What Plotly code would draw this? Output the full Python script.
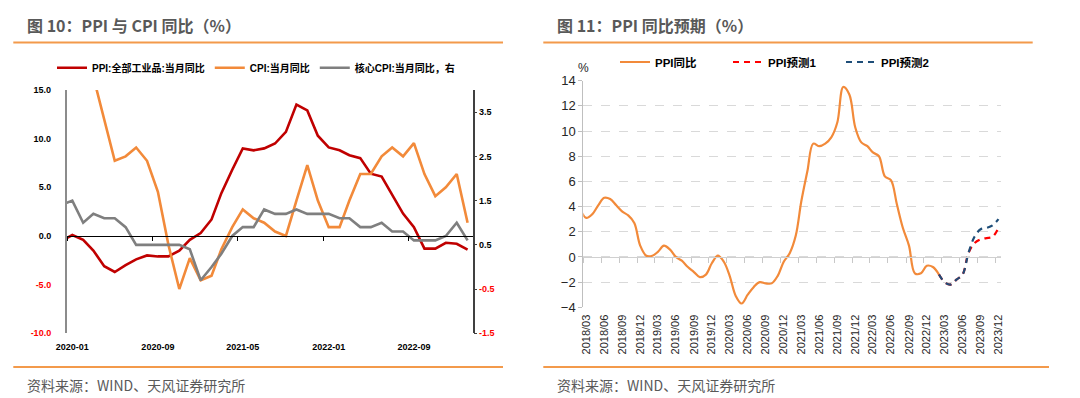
import plotly.graph_objects as go
import pandas as pd

W, H = 1080, 398


def px(x):
    return x / W


def py(y):
    return 1 - y / H


# ---------------- Data: left chart (图10) ----------------
left_months = pd.date_range("2019-12-01", "2023-02-01", freq="MS")
ppi_left = [-0.5,
            0.1, -0.4, -1.5, -3.1, -3.7, -3.0, -2.4, -2.0, -2.1, -2.1, -1.5, -0.4,
            0.3, 1.7, 4.4, 6.8, 9.0, 8.8, 9.0, 9.5, 10.7, 13.5, 12.9, 10.3,
            9.1, 8.8, 8.3, 8.0, 6.4, 6.1, 4.2, 2.3, 0.9, -1.3, -1.3, -0.7,
            -0.8, -1.4]
cpi_left = [4.5,
            5.4, 5.2, 4.3, 3.3, 2.4, 2.5, 2.7, 2.4, 1.7, 0.5, -0.5, 0.2,
            -0.3, -0.2, 0.4, 0.9, 1.3, 1.1, 1.0, 0.8, 0.7, 1.5, 2.3, 1.5,
            0.9, 0.9, 1.5, 2.1, 2.1, 2.5, 2.7, 2.5, 2.8, 2.1, 1.6, 1.8,
            2.1, 1.0]
core_left = [1.4,
             1.5, 1.0, 1.2, 1.1, 1.1, 0.9, 0.5, 0.5, 0.5, 0.5, 0.5, 0.4,
             -0.3, 0.0, 0.3, 0.7, 0.9, 0.9, 1.3, 1.2, 1.2, 1.3, 1.2, 1.2,
             1.2, 1.1, 1.1, 0.9, 0.9, 1.0, 0.8, 0.8, 0.6, 0.6, 0.6, 0.7,
             1.0, 0.6]
left_tick_months = ["2020-01-01", "2020-09-01", "2021-05-01", "2022-01-01", "2022-09-01"]
left_y_ticks = [-10, -5, 0, 5, 10, 15]
left_y2_ticks = [-1.5, -0.5, 0.5, 1.5, 2.5, 3.5]
left_names = ["PPI:全部工业品:当月同比", "CPI:当月同比", "核心CPI:当月同比，右"]

# ---------------- Data: right chart (图11) ----------------
right_months = pd.date_range("2018-02-01", "2023-02-01", freq="MS")
ppi_right = [3.7, 3.1, 3.4, 4.1, 4.7, 4.6, 4.1, 3.6, 3.3, 2.7, 0.9,
             0.1, 0.1, 0.4, 0.9, 0.6, 0.0, -0.3, -0.8, -1.2, -1.6, -1.4, -0.5,
             0.1, -0.4, -1.5, -3.1, -3.7, -3.0, -2.4, -2.0, -2.1, -2.1, -1.5, -0.4,
             0.3, 1.7, 4.4, 6.8, 9.0, 8.8, 9.0, 9.5, 10.7, 13.5, 12.9, 10.3,
             9.1, 8.8, 8.3, 8.0, 6.4, 6.1, 4.2, 2.3, 0.9, -1.3, -1.3, -0.7,
             -0.8, -1.4]
fc_months = pd.date_range("2023-02-01", "2023-12-01", freq="MS")
forecast1 = [-1.4, -2.0, -2.2, -1.8, -1.4, 0.3, 1.1, 1.4, 1.5, 1.6, 2.3]
forecast2 = [-1.4, -2.0, -2.2, -1.8, -1.4, 0.3, 1.6, 2.2, 2.3, 2.5, 3.0]
right_tick_months = pd.date_range("2018-03-01", "2023-12-01", freq="3MS")
right_names = ["PPI同比", "PPI预测1", "PPI预测2"]

# ---------------- Styles ----------------
FONT = "Liberation Sans, Arial, Noto Sans CJK SC, sans-serif"
CJK = "Noto Sans CJK SC, sans-serif"
RED = "#C00000"
ORANGE = "#F28A3A"
GRAY = "#7F7F7F"
RULE = "#F39A4B"
TXT = "#595959"


def colored(v, fmt):
    s = fmt.format(v)
    if v < 0:
        return '<span style="color:#FF0000">' + s + "</span>"
    return s


fig = go.Figure()

# Left chart traces
fig.add_trace(go.Scatter(x=left_months, y=ppi_left, name=left_names[0], mode="lines",
                         line=dict(color=RED, width=2.6), xaxis="x", yaxis="y",
                         legend="legend"))
fig.add_trace(go.Scatter(x=left_months, y=cpi_left, name=left_names[1], mode="lines",
                         line=dict(color=ORANGE, width=2.6), xaxis="x", yaxis="y2",
                         legend="legend"))
fig.add_trace(go.Scatter(x=left_months, y=core_left, name=left_names[2], mode="lines",
                         line=dict(color=GRAY, width=2.6), xaxis="x", yaxis="y2",
                         legend="legend"))
# invisible helper so the zero-line axis is drawn
fig.add_trace(go.Scatter(x=left_months, y=ppi_left, mode="lines", opacity=0,
                         line=dict(width=0), showlegend=False, hoverinfo="skip",
                         xaxis="x3", yaxis="y"))

# Right chart traces
fig.add_trace(go.Scatter(x=right_months, y=ppi_right, name=right_names[0], mode="lines",
                         line=dict(color=ORANGE, width=2.2, shape="spline", smoothing=1.0),
                         xaxis="x2", yaxis="y3", legend="legend2"))
fig.add_trace(go.Scatter(x=fc_months, y=forecast1, name=right_names[1], mode="lines",
                         line=dict(color="#FF0000", width=2.2, dash="6px,5px",
                                   shape="spline", smoothing=1.0),
                         xaxis="x2", yaxis="y3", legend="legend2"))
fig.add_trace(go.Scatter(x=fc_months, y=forecast2, name=right_names[2], mode="lines",
                         line=dict(color="#1F4E79", width=2.2, dash="6px,5px",
                                   shape="spline", smoothing=1.0),
                         xaxis="x2", yaxis="y3", legend="legend2"))
fig.add_trace(go.Scatter(x=right_months, y=ppi_right, mode="lines", opacity=0,
                         line=dict(width=0), showlegend=False, hoverinfo="skip",
                         xaxis="x4", yaxis="y3"))

# ---------------- Axes ----------------
L_x0, L_x1, L_top, L_bot = 66.7, 472.5, 90.0, 333.3
R_x0, R_x1, R_top, R_bot = 583.3, 1001.0, 80.7, 307.3

left_range_x = ["2019-12-16", "2023-02-15"]
right_range_x = ["2018-02-14", "2023-12-14"]

ly_dom = [py(L_bot), py(L_top)]
ry_dom = [py(R_bot), py(R_top)]
left_zero_pos = ly_dom[0] + (0 - left_y_ticks[0]) / (left_y_ticks[-1] - left_y_ticks[0]) * (ly_dom[1] - ly_dom[0])
right_zero_pos = ry_dom[0] + (0 - (-4)) / (14 - (-4)) * (ry_dom[1] - ry_dom[0])

left_zero_ticks = [pd.Timestamp(m) - pd.Timedelta(days=15) for m in left_tick_months]
right_zero_ticks = [m - pd.Timedelta(days=15) for m in right_tick_months]

fig.update_layout(
    xaxis=dict(domain=[px(L_x0), px(L_x1)], anchor="y", type="date", range=left_range_x,
               tickvals=left_tick_months, tickformat="%Y-%m", showgrid=False, showline=False,
               zeroline=False, ticks="outside", ticklen=5, tickcolor="rgba(0,0,0,0)",
               tickfont=dict(family=FONT, size=9, color="#000000", weight="bold")),
    xaxis3=dict(overlaying="x", anchor="free", position=left_zero_pos, type="date",
                range=left_range_x, tickvals=left_zero_ticks, showticklabels=False,
                showgrid=False, zeroline=False, showline=True, linecolor="#000000",
                linewidth=1.2, ticks="outside", ticklen=4, tickcolor="#000000", tickwidth=1),
    yaxis=dict(domain=ly_dom, anchor="x", range=[left_y_ticks[0], left_y_ticks[-1]],
               tickvals=left_y_ticks, ticktext=[colored(v, "{:.1f}") for v in left_y_ticks],
               showgrid=False, zeroline=False, showline=True, linecolor="#8C8C8C", linewidth=1.5,
               ticks="outside", ticklen=12, tickcolor="rgba(0,0,0,0)",
               tickfont=dict(family=FONT, size=9, color="#000000", weight="bold")),
    yaxis2=dict(overlaying="y", side="right", anchor="x", range=[-1.5, 4.0],
                tickvals=left_y2_ticks, ticktext=[colored(v, "{:.1f}") for v in left_y2_ticks],
                showgrid=False, zeroline=False, showline=True, linecolor="#404040", linewidth=1.5,
                ticks="outside", ticklen=3, tickcolor="#404040",
                tickfont=dict(family=FONT, size=9, color="#000000", weight="bold")),
    xaxis2=dict(domain=[px(R_x0), px(R_x1)], anchor="y3", type="date", range=right_range_x,
                tickvals=list(right_tick_months), tickformat="%Y/%m", tickangle=-90,
                showgrid=False, showline=False, zeroline=False, ticks="outside", ticklen=2,
                tickcolor="rgba(0,0,0,0)", tickfont=dict(family=FONT, size=11, color="#262626")),
    xaxis4=dict(overlaying="x2", anchor="free", position=right_zero_pos, type="date",
                range=right_range_x, tickvals=right_zero_ticks, showticklabels=False,
                showgrid=False, zeroline=False, showline=True, linecolor="#D0D0D0",
                linewidth=1, ticks="outside", ticklen=5, tickcolor="#C8C8C8", tickwidth=1),
    yaxis3=dict(domain=ry_dom, anchor="x2", range=[-4, 14], dtick=2, tick0=0,
                showgrid=True, gridcolor="#D9D9D9", griddash="dash", gridwidth=1,
                zeroline=False, showline=True, linecolor="#BFBFBF", linewidth=1,
                ticks="outside", ticklen=4, tickcolor="#BFBFBF",
                tickfont=dict(family=FONT, size=13, color="#262626")),
)

# ---------------- Legends ----------------
fig.update_layout(
    legend=dict(orientation="h", x=px(52), y=py(67.7), xanchor="left", yanchor="middle",
                bgcolor="rgba(0,0,0,0)", font=dict(family=FONT, size=10, color="#000000",
                                                   weight="bold"),
                itemwidth=30, traceorder="normal"),
    legend2=dict(orientation="h", x=px(615), y=py(62), xanchor="left", yanchor="middle",
                 bgcolor="rgba(0,0,0,0)", font=dict(family=FONT, size=11.5, color="#000000",
                                                    weight="bold"),
                 itemwidth=30, entrywidth=68, traceorder="normal"),
)

# ---------------- Decorations: titles, rules, sources ----------------
annotations = [
    dict(text="图 10：PPI 与 CPI 同比（%）", x=px(25), y=py(25), xanchor="left", yanchor="middle",
         font=dict(family=CJK, size=16, color=TXT, weight="bold")),
    dict(text="图 11：PPI 同比预期（%）", x=px(555), y=py(25), xanchor="left", yanchor="middle",
         font=dict(family=CJK, size=16, color=TXT, weight="bold")),
    dict(text="资料来源：WIND、天风证券研究所", x=px(25), y=py(385), xanchor="left", yanchor="middle",
         font=dict(family=CJK, size=14, color=TXT)),
    dict(text="资料来源：WIND、天风证券研究所", x=px(555), y=py(385), xanchor="left", yanchor="middle",
         font=dict(family=CJK, size=14, color=TXT)),
    dict(text="%", x=px(583), y=py(68), xanchor="center", yanchor="middle",
         font=dict(family=FONT, size=12, color="#262626")),
]
for a in annotations:
    a.update(xref="paper", yref="paper", showarrow=False)

shapes = []
for (x0, x1, y) in [(13.3, 503, 42.5), (13.3, 503, 367), (543.3, 1032.7, 42.5), (543.3, 1049, 367)]:
    shapes.append(dict(type="line", xref="paper", yref="paper", x0=px(x0), x1=px(x1),
                       y0=py(y), y1=py(y), line=dict(color=RULE, width=2)))

fig.update_layout(
    width=W, height=H, autosize=False,
    margin=dict(l=0, r=0, t=0, b=0, pad=0, autoexpand=False),
    paper_bgcolor="#FFFFFF", plot_bgcolor="rgba(0,0,0,0)",
    annotations=annotations, shapes=shapes,
    hovermode=False,
)

fig.write_html(
    "out.html",
    config={"displayModeBar": False},
    post_script="document.body.style.margin='0';document.body.style.padding='0';"
                "document.body.style.overflow='hidden';",
)
